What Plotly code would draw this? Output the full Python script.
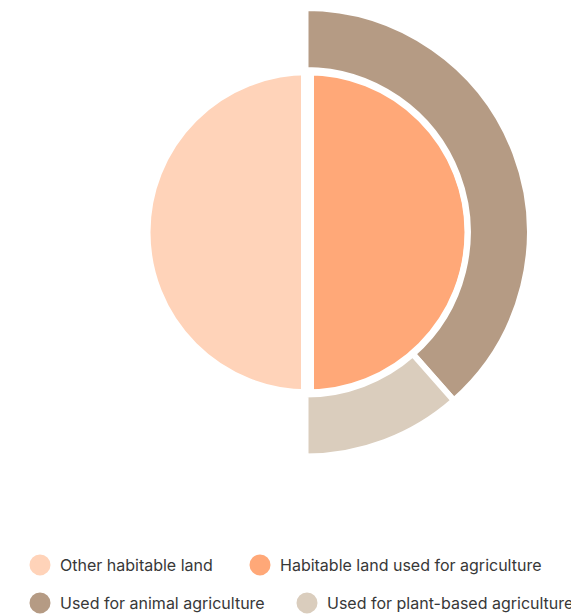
import plotly.graph_objects as go

# Data
inner_labels = ["Habitable land used for agriculture", "Other habitable land"]
inner_values = [50, 50]
outer_labels = ["Used for animal agriculture", "Used for plant-based agriculture", ""]
outer_values = [38.5, 11.5, 50]
legend_names = ["Other habitable land", "Habitable land used for agriculture",
                "Used for animal agriculture", "Used for plant-based agriculture"]

C_OTHER = "#FFD3B9"
C_AGRI = "#FFA878"
C_ANIMAL = "#B59B84"
C_PLANT = "#DACDBD"
legend_colors = [C_OTHER, C_AGRI, C_ANIMAL, C_PLANT]

# page body has an 8px margin, so the figure is drawn offset by 8px
OFF = 8
W, H = 579 - OFF, 614 - OFF

def dom(cx, cy, r):
    clamp = lambda v: min(1.0, max(0.0, v))
    return dict(x=[clamp((cx - r) / W), clamp((cx + r) / W)],
                y=[clamp((H - cy - r) / H), clamp((H - cy + r) / H)])

fig = go.Figure()

fig.add_trace(go.Pie(
    labels=inner_labels, values=inner_values, sort=False, direction="clockwise", rotation=0,
    marker=dict(colors=[C_AGRI, C_OTHER], line=dict(color="white", width=13)),
    textinfo="none", hoverinfo="label+percent", showlegend=False,
    domain=dom(307.5 - OFF, 232.3 - OFF, 163.5),
))

fig.add_trace(go.Pie(
    labels=outer_labels, values=outer_values, sort=False, direction="clockwise", rotation=0,
    hole=0.7236,
    marker=dict(colors=[C_ANIMAL, C_PLANT, "rgba(0,0,0,0)"],
                line=dict(color=["white", "white", "rgba(0,0,0,0)"], width=[6, 6, 0])),
    textinfo="none", hoverinfo="label", showlegend=False,
    domain=dom(305.5 - OFF, 232.3 - OFF, 224.3),
))

font = dict(family="Inter, 'Noto Sans', sans-serif", size=16, color="#383838")
# legend anchor positions (screen px): marker centre x (None = right-aligned), row centre y
leg_pos = [(39, 565), (259, 565), (39, 603), (None, 603)]
layout_legends = {}
for i, (name, col, (mx, my)) in enumerate(zip(legend_names, legend_colors, leg_pos)):
    key = "legend" if i == 0 else f"legend{i + 1}"
    fig.add_trace(go.Scatter(
        x=[None], y=[None], mode="markers", name=name, legend=key,
        marker=dict(symbol="circle", size=16, color=col, line=dict(color=col, width=5)),
        showlegend=True, hoverinfo="skip",
    ))
    if mx is None:
        xpos, xanc = 1.0, "right"
    else:
        xpos, xanc = (mx - 19 - OFF) / W, "left"
    layout_legends[key] = dict(
        orientation="h", x=xpos, xanchor=xanc,
        y=(H - (my - OFF)) / H, yanchor="middle",
        font=font, bgcolor="rgba(0,0,0,0)",
    )

fig.update_layout(
    width=W, height=H,
    margin=dict(l=0, r=0, t=0, b=0, autoexpand=False),
    paper_bgcolor="white", plot_bgcolor="white",
    xaxis=dict(visible=False), yaxis=dict(visible=False),
    **layout_legends,
)

fig.write_html("out.html")
